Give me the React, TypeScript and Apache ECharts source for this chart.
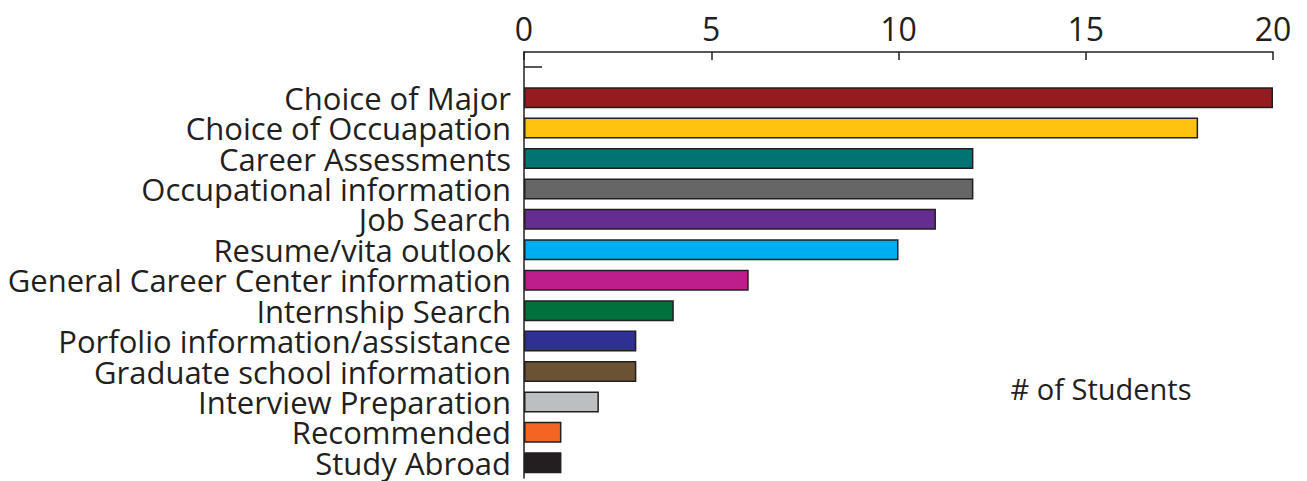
import React, { useEffect, useRef } from "react";
import * as echarts from "echarts";

const categories = [
  "",
  "Choice of Major",
  "Choice of Occuapation",
  "Career Assessments",
  "Occupational information",
  "Job Search",
  "Resume/vita outlook",
  "General Career Center information",
  "Internship Search",
  "Porfolio information/assistance",
  "Graduate school information",
  "Interview Preparation",
  "Recommended",
  "Study Abroad",
];
const values: (number | null)[] = [null, 20, 18, 12, 12, 11, 10, 6, 4, 3, 3, 2, 1, 1];
const colors = [
  "#ffffff",
  "#961B1F",
  "#FFC20E",
  "#007473",
  "#666666",
  "#662D91",
  "#00AEEF",
  "#BE1E8C",
  "#00703C",
  "#2E3192",
  "#6A5232",
  "#BCBEC0",
  "#F26522",
  "#231F20",
];
const xTicks = [0, 5, 10, 15, 20];
const axisTitle = "# of Students";

export default function App() {
  const ref = useRef<HTMLDivElement>(null);
  useEffect(() => {
    if (!ref.current) return;
    const chart = echarts.init(ref.current, undefined, { renderer: "svg" });
    const font = "'Open Sans', sans-serif";
    chart.setOption({
      animation: false,
      backgroundColor: "#ffffff",
      grid: { left: 524, right: 34, top: 52, bottom: 3, containLabel: false },
      xAxis: {
        type: "value",
        position: "top",
        min: xTicks[0],
        max: xTicks[xTicks.length - 1],
        interval: 5,
        axisLine: { show: true, lineStyle: { color: "#231F20", width: 1.5 } },
        axisTick: { show: true, inside: true, length: 8, lineStyle: { color: "#231F20", width: 1.5 } },
        axisLabel: { color: "#231F20", fontSize: 32, fontFamily: font, margin: 8, lineHeight: 32 },
        splitLine: { show: false },
      },
      yAxis: {
        type: "category",
        data: categories,
        inverse: true,
        axisLine: { show: true, lineStyle: { color: "#231F20", width: 1.5 } },
        axisTick: { show: false },
        axisLabel: {
          color: "#231F20",
          fontSize: 31,
          lineHeight: 30,
          fontFamily: font,
          margin: 13,
          interval: 0,
        },
      },
      series: [
        {
          type: "bar",
          barWidth: 21,
          data: values.map((v, i) => ({
            value: v,
            itemStyle: { color: colors[i], borderColor: "#231F20", borderWidth: 1.5 },
          })),
        },
      ],
      graphic: [
        {
          type: "line",
          shape: { x1: 524, y1: 67, x2: 542, y2: 67 },
          style: { stroke: "#231F20", lineWidth: 1.5 },
        },
        {
          type: "text",
          x: 1101,
          y: 388,
          style: {
            text: axisTitle,
            font: "29px " + font,
            fill: "#231F20",
            textAlign: "center",
            textVerticalAlign: "middle",
          },
        },
      ],
    });
    return () => chart.dispose();
  }, []);
  return (
    <div
      ref={ref}
      style={{ position: "absolute", left: 0, top: 0, width: 1307, height: 481 }}
    />
  );
}
